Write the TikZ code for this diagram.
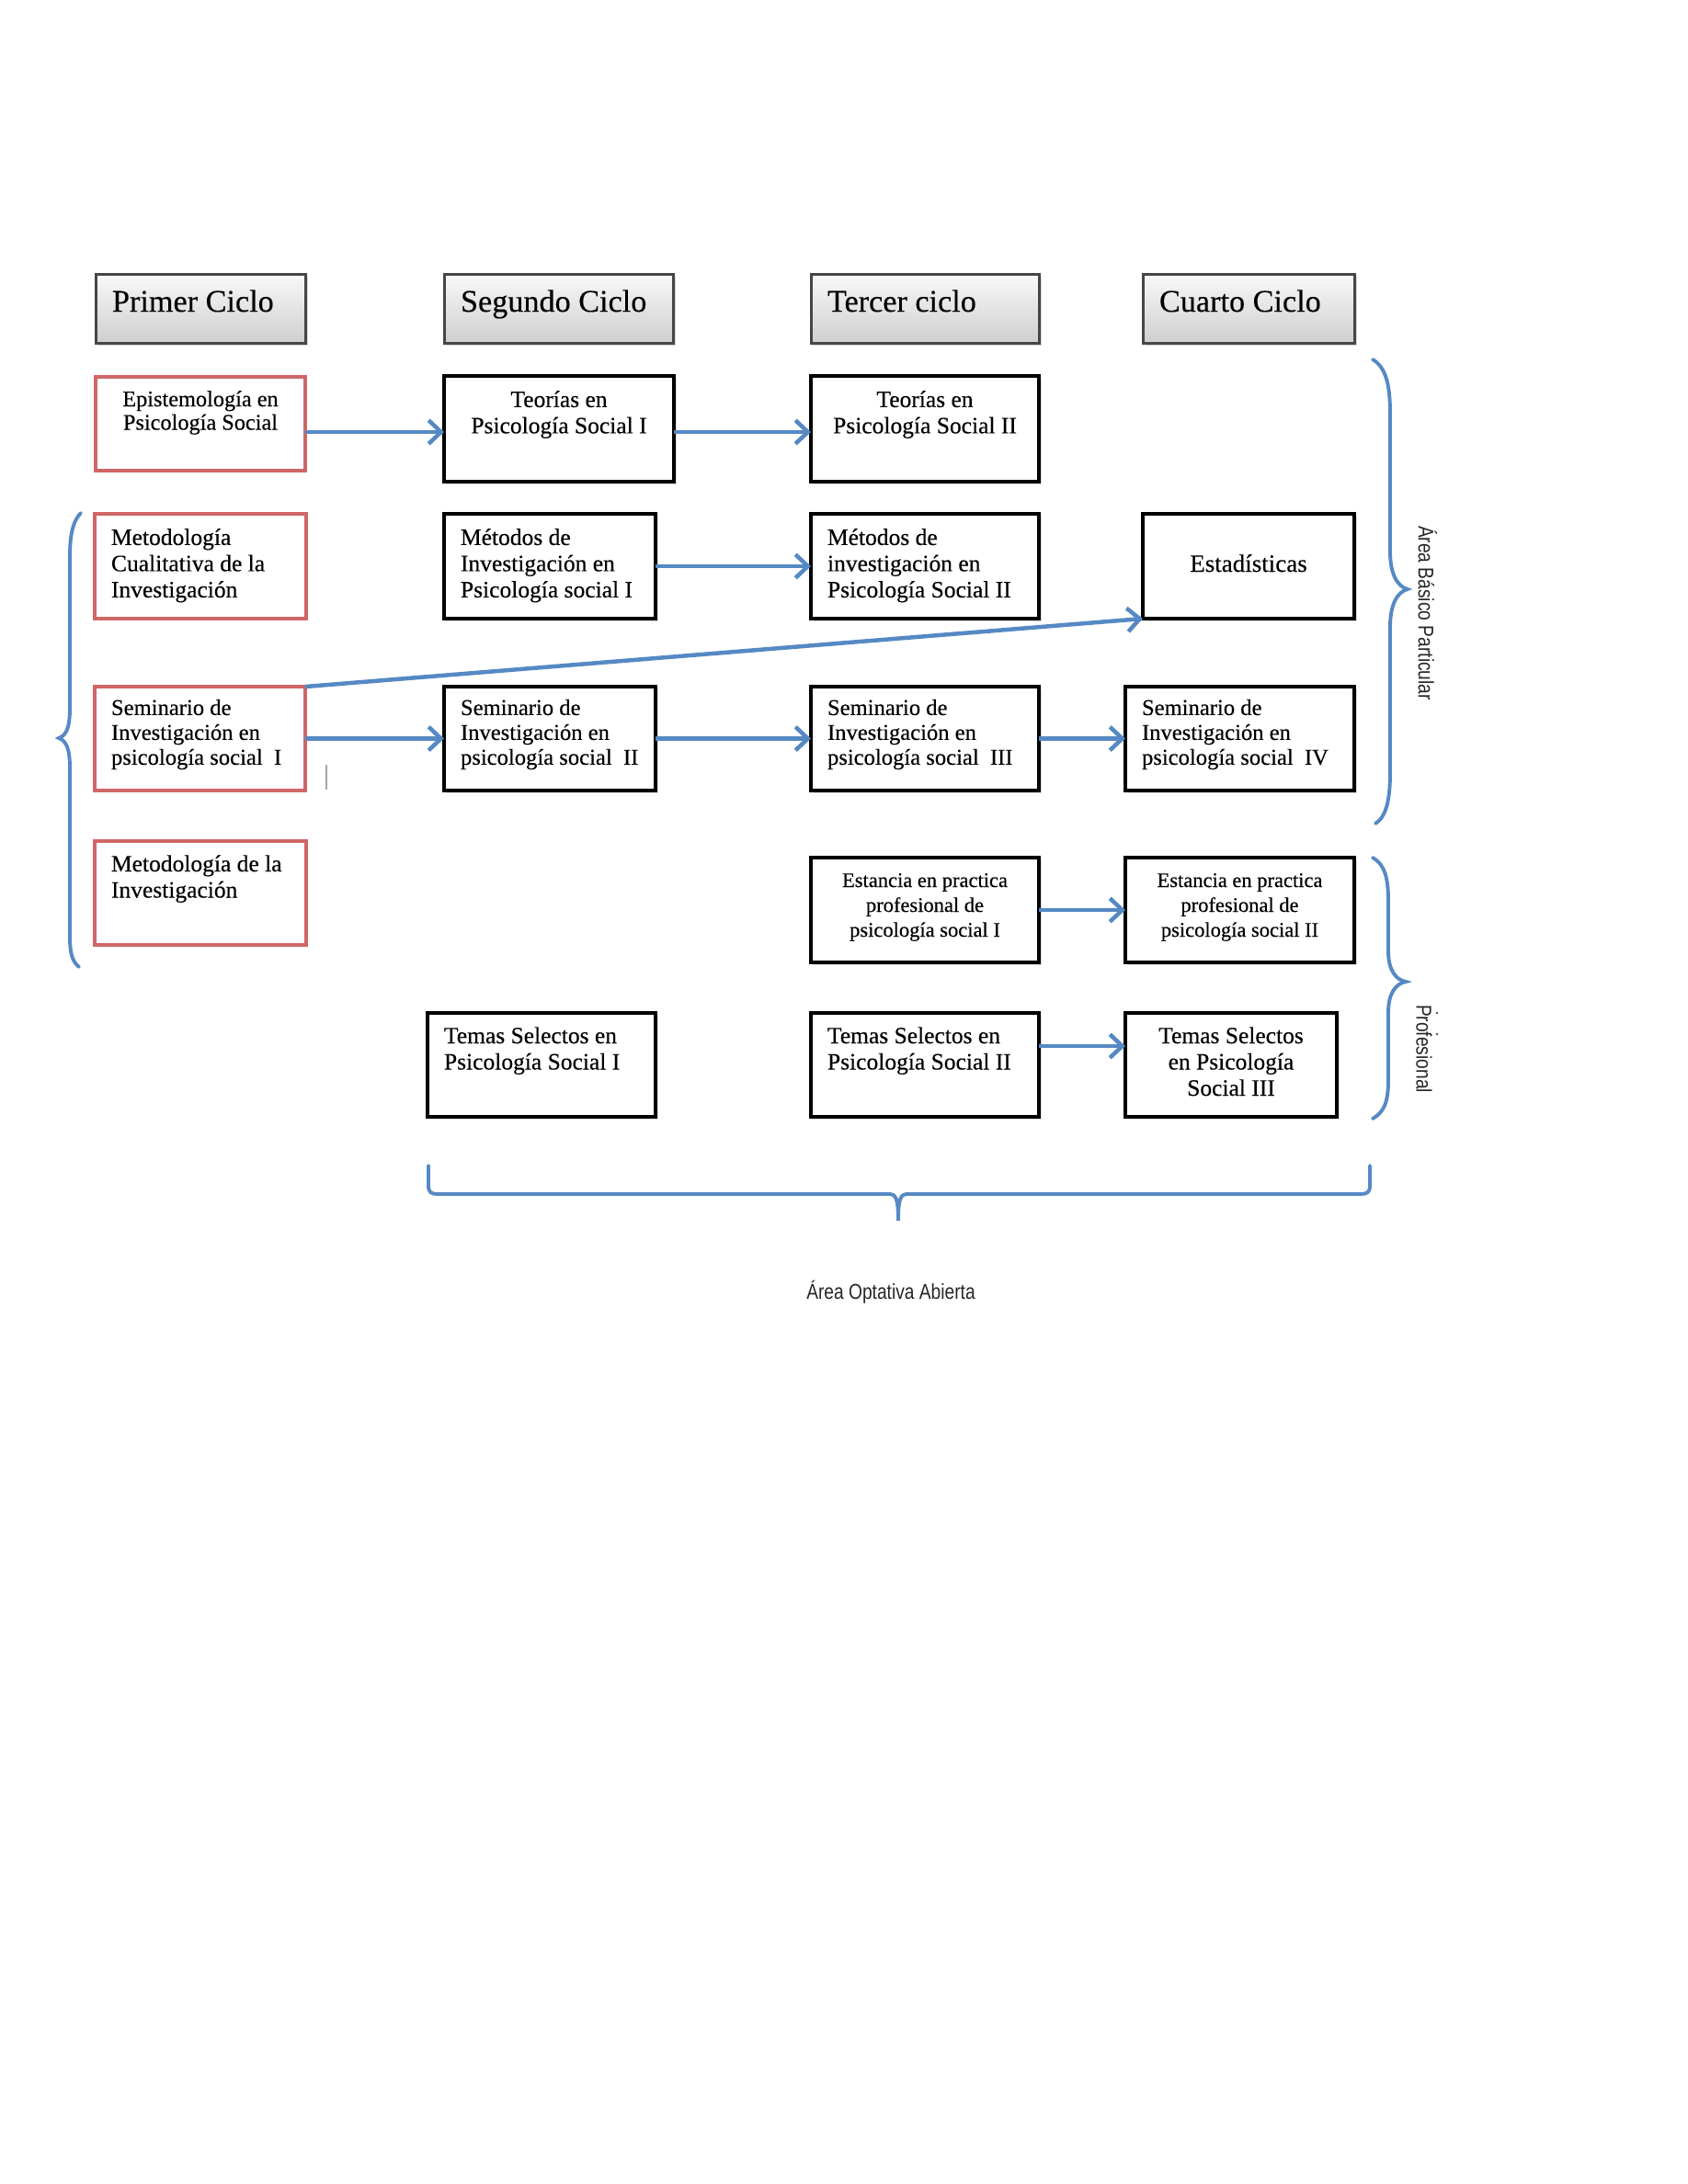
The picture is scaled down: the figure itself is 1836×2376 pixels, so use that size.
\documentclass[tikz,border=0pt]{standalone}
\usepackage{fontspec}
\setmainfont[FakeBold=0.3]{Liberation Serif}
\newfontfamily\narrowsans[FakeStretch=0.82]{Liberation Sans}
\usetikzlibrary{arrows.meta,shadows}
\definecolor{arrblue}{RGB}{86,137,196}
\definecolor{boxred}{RGB}{208,102,102}
\definecolor{hdrborder}{RGB}{70,70,70}
% #1 width, #2 height, #3 first baseline from top, #4 l/c, #5 lines
\newcommand\celltext[5]{%
  \vbox to #2{\vskip\dimexpr #3-0.7\baselineskip\relax
    \hbox to #1{\if c#4\hss\fi\begin{tabular}[t]{@{}#4@{}}#5\end{tabular}\hss}\vss}}
\tikzset{
  cellbase/.style={anchor=north west, inner xsep=6pt, inner ysep=0pt, outer sep=0pt},
  blkbox/.style={cellbase, draw=black, line width=1.35pt, fill=white,
    drop shadow={shadow xshift=0.9pt, shadow yshift=-0.9pt, opacity=0.25}},
  redbox/.style={cellbase, draw=boxred, line width=1.1pt, fill=white},
  hdr/.style={cellbase, draw=hdrborder, line width=1pt, top color=gray!5, bottom color=gray!38,
    drop shadow={shadow xshift=0.9pt, shadow yshift=-0.9pt, opacity=0.3},
    font=\fontsize{11.4}{13}\selectfont},
  body/.style={font=\fontsize{8.5}{9.5}\selectfont},
  semfont/.style={font=\fontsize{8.2}{9}\selectfont},
  arr/.style={draw=arrblue, line width=1.5pt, -{Straight Barb[length=4.5pt,width=8.5pt]}},
  bracestyle/.style={draw=arrblue, line width=1.3pt, line cap=round},
  side/.style={font=\narrowsans\fontsize{7.8}{9}\selectfont, text=black!85}
}
\begin{document}
\begin{tikzpicture}[x=0.33333pt, y=-0.33333pt]
\useasboundingbox (0,0) rectangle (1836,2376);

% headers
\node[hdr] (h1) at (104,298) {\celltext{64pt}{25pt}{13.7pt}{l}{Primer Ciclo}};
\node[hdr] (h2) at (483,298) {\celltext{71pt}{25pt}{13.7pt}{l}{Segundo Ciclo}};
\node[hdr] (h3) at (882,298) {\celltext{70.67pt}{25pt}{13.7pt}{l}{Tercer ciclo}};
\node[hdr] (h4) at (1243,298) {\celltext{64.67pt}{25pt}{13.7pt}{l}{Cuarto Ciclo}};

% row 1
\node[redbox, font=\fontsize{8.1}{8.5}\selectfont] (epi) at (104,410) {\celltext{64pt}{34pt}{10.67pt}{c}{Epistemología en\\Psicología Social}};
\node[blkbox, body] (teo1) at (483,409) {\celltext{71.33pt}{38.33pt}{11.3pt}{c}{Teorías en\\Psicología Social I}};
\node[blkbox, body] (teo2) at (882,409) {\celltext{70.67pt}{38.33pt}{11.3pt}{c}{Teorías en\\Psicología Social II}};

% row 2
\node[redbox, body] (metc) at (103,559) {\celltext{64.67pt}{38pt}{11.3pt}{l}{Metodología\\Cualitativa de la\\Investigación}};
\node[blkbox, body] (met1) at (483,559) {\celltext{64.67pt}{38pt}{11.3pt}{l}{Métodos de\\Investigación en\\Psicología social I}};
\node[blkbox, body] (met2) at (882,559) {\celltext{70.67pt}{38pt}{11.3pt}{l}{Métodos de\\investigación en\\Psicología Social II}};
\node[blkbox, font=\fontsize{9}{10}\selectfont] (est) at (1243,559) {\celltext{64.67pt}{38pt}{21pt}{c}{Estadísticas}};

% row 3
\node[redbox, semfont] (sem1) at (103,747) {\celltext{64.33pt}{37.67pt}{10.3pt}{l}{Seminario de\\Investigación en\\psicología social\ \ I}};
\node[blkbox, semfont] (sem2) at (483,747) {\celltext{64.67pt}{37.67pt}{10.3pt}{l}{Seminario de\\Investigación en\\psicología social\ \ II}};
\node[blkbox, semfont] (sem3) at (882,747) {\celltext{70.67pt}{37.67pt}{10.3pt}{l}{Seminario de\\Investigación en\\psicología social\ \ III}};
\node[blkbox, semfont] (sem4) at (1224,747) {\celltext{71pt}{37.67pt}{10.3pt}{l}{Seminario de\\Investigación en\\psicología social\ \ IV}};

% row 4
\node[redbox, body] (metd) at (103,915) {\celltext{64.67pt}{37.67pt}{11pt}{l}{Metodología de la\\Investigación}};
\node[blkbox, font=\fontsize{7.5}{9}\selectfont] (esta1) at (882,933) {\celltext{70.67pt}{38pt}{10.67pt}{c}{Estancia en practica\\profesional de\\psicología social I}};
\node[blkbox, font=\fontsize{7.5}{9}\selectfont] (esta2) at (1224,933) {\celltext{71pt}{38pt}{10.67pt}{c}{Estancia en practica\\profesional de\\psicología social II}};

% row 5
\node[blkbox, body] (tem1) at (465,1102) {\celltext{70.67pt}{37.67pt}{11pt}{l}{Temas Selectos en\\Psicología Social I}};
\node[blkbox, body] (tem2) at (882,1102) {\celltext{70.67pt}{37.67pt}{11pt}{l}{Temas Selectos en\\Psicología Social II}};
\node[blkbox, body] (tem3) at (1224,1102) {\celltext{64.67pt}{37.67pt}{11pt}{c}{Temas Selectos\\en Psicología\\Social III}};

% arrows
\draw[arr] (epi.east |- 0,470) -- (teo1.west |- 0,470);
\draw[arr] (teo1.east |- 0,470) -- (teo2.west |- 0,470);
\draw[arr] (met1.east) -- (met2.west);
\draw[arr] (sem1.north east) -- (est.south west);
\draw[arr] (sem1.east) -- (sem2.west);
\draw[arr] (sem2.east) -- (sem3.west);
\draw[arr] (sem3.east) -- (sem4.west);
\draw[arr] (esta1.east) -- (esta2.west);
\draw[arr] (tem2.east |- 0,1138) -- (tem3.west |- 0,1138);

% cursor mark
\draw[gray!70, line width=0.6pt] (355,832) -- (355,859);

% left brace
\draw[bracestyle] (88,558) .. controls (80,566) and (76,580) .. (76,605) -- (76,770)
  .. controls (76,792) and (72,800) .. (64,803) .. controls (72,806) and (76,814) .. (76,836)
  -- (76,1020) .. controls (76,1040) and (80,1047) .. (86,1052);

% right braces
\draw[bracestyle] (1493,391) .. controls (1508,400) and (1512,420) .. (1512,450) -- (1512,600)
  .. controls (1512,625) and (1520,638) .. (1531,641) .. controls (1520,644) and (1512,657) .. (1512,682)
  -- (1512,840) .. controls (1512,870) and (1508,888) .. (1496,896);
\draw[bracestyle] (1493,933) .. controls (1506,940) and (1510,955) .. (1510,980) -- (1510,1035)
  .. controls (1510,1055) and (1518,1066) .. (1529,1068) .. controls (1518,1070) and (1510,1081) .. (1510,1101)
  -- (1510,1175) .. controls (1510,1200) and (1505,1210) .. (1493,1217);

% bottom brace
\draw[bracestyle] (466,1268) -- (466,1290) .. controls (466,1297) and (469,1299) .. (476,1299)
  -- (966,1299) .. controls (974,1299) and (977,1302) .. (977,1328)
  .. controls (977,1302) and (980,1299) .. (988,1299) -- (1480,1299)
  .. controls (1487,1299) and (1490,1297) .. (1490,1290) -- (1490,1268);

% labels
\node[side, rotate=-90] (abp) at (1553,667) {Área Básico Particular};
\node[side, rotate=-90] (prof) at (1549,1141) {Profesional};
\fill[black!70] (1563,1102) circle (1.3) (1563,1125) circle (1.3);
\node[side] (aoa) at (969,1406) {Área Optativa Abierta};
\end{tikzpicture}
\end{document}
